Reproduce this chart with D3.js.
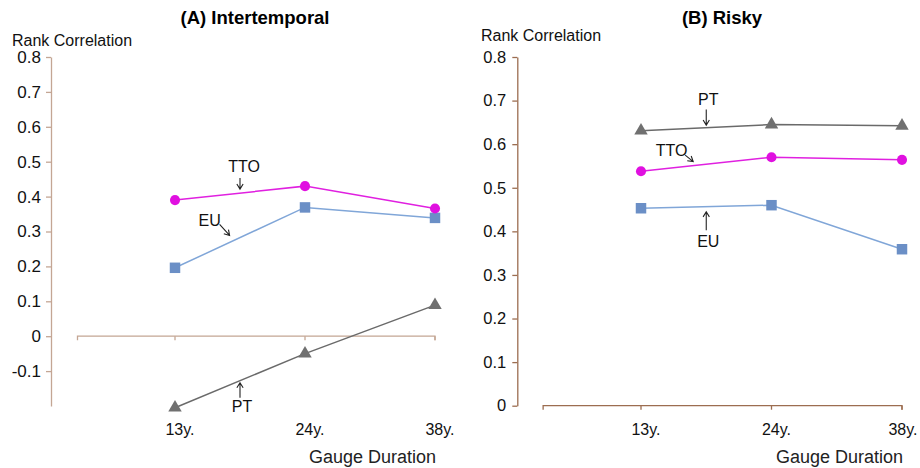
<!DOCTYPE html>
<meta charset="utf-8">
<style>
body { margin: 0; background: #fff; }
svg { font-family: Arial, "Liberation Sans", sans-serif; }
.tick text { fill: #111; }
</style>
<body>
<svg width="920" height="468"></svg>
<script src="https://cdn.jsdelivr.net/npm/d3@7/dist/d3.min.js"></script>
<script>

// data
var durations = ["13y.", "24y.", "38y."];

var interTTO = [0.390, 0.430, 0.366];
var interEU  = [0.196, 0.369, 0.339];
var interPT  = [-0.205, -0.050, 0.089];

var riskyTTO = [0.538, 0.570, 0.564];
var riskyEU  = [0.453, 0.460, 0.359];
var riskyPT  = [0.631, 0.645, 0.642];

var interTicks = [-0.1, 0, 0.1, 0.2, 0.3, 0.4, 0.5, 0.6, 0.7, 0.8];
var riskyTicks = [0, 0.1, 0.2, 0.3, 0.4, 0.5, 0.6, 0.7, 0.8];

var svg = d3.select("svg");

var styles = {
  TTO: { line: "#e020e0", fill: "#e010e0", symbol: d3.symbolCircle, size: 80 },
  EU:  { line: "#80a6d8", fill: "#6b8fc6", symbol: d3.symbolSquare, size: 110 },
  PT:  { line: "#6a6a6a", fill: "#707070", symbol: d3.symbolTriangle, size: 78 }
};

function arrow(g, x1, y1, x2, y2) {
  var a = Math.atan2(y2 - y1, x2 - x1), h = 6, w = 0.55;
  g.append("path")
    .attr("d", "M" + x1 + "," + y1 + "L" + x2 + "," + y2 +
      "M" + (x2 - h * Math.cos(a - w)) + "," + (y2 - h * Math.sin(a - w)) +
      "L" + x2 + "," + y2 +
      "L" + (x2 - h * Math.cos(a + w)) + "," + (y2 - h * Math.sin(a + w)))
    .attr("fill", "none")
    .attr("stroke", "#222")
    .attr("stroke-width", 1.1);
}

function panel(opt) {
  var g = svg.append("g");
  var x = d3.scalePoint().domain(durations).range(opt.xRange);
  var y = d3.scaleLinear().domain(opt.yDomain).range(opt.yRange);
  var step = x.step();

  // y axis
  var ya = g.append("g")
    .attr("transform", "translate(" + opt.axisX + ",0)")
    .call(d3.axisLeft(y).tickValues(opt.ticks).tickSize(5).tickSizeOuter(0)
      .tickPadding(opt.pad).tickFormat(function(d) { return String(+d.toFixed(1)); }));
  ya.selectAll("path, line").attr("stroke", opt.axisColor).attr("stroke-width", 1.3);
  ya.selectAll("text").attr("font-size", opt.tickSize).attr("font-family", "Arial, 'Liberation Sans', sans-serif");

  // x axis (crosses at zero, labels at the bottom)
  var x0 = x(durations[0]) - 0.75 * step, y0 = y(0);
  var xa = g.append("g").attr("stroke", opt.axisColor).attr("stroke-width", 1.3).attr("fill", "none");
  xa.append("path").attr("d", "M" + x0 + "," + (y0 + 4) + "V" + y0 + "H" + x(durations[2]) + "V" + (y0 + 4));
  durations.forEach(function(d) {
    xa.append("line").attr("x1", x(d)).attr("x2", x(d)).attr("y1", y0).attr("y2", y0 + 4);
  });
  g.selectAll(".xlab").data(durations).enter().append("text")
    .attr("x", function(d) { return Math.min(x(d) + 5, 903); })
    .attr("y", 435)
    .attr("text-anchor", "middle")
    .attr("font-size", 16)
    .attr("fill", "#111")
    .text(function(d) { return d; });

  g.append("text").attr("x", x(durations[2]) + 1).attr("y", 463)
    .attr("text-anchor", "end").attr("font-size", 18).attr("fill", "#222")
    .text("Gauge Duration");

  g.append("text").attr("x", opt.titleX).attr("y", 24)
    .attr("text-anchor", "middle").attr("font-size", 18.5).attr("font-weight", "bold")
    .text(opt.title);

  g.append("text").attr("x", opt.rankX).attr("y", opt.rankY)
    .attr("font-size", 16).attr("fill", "#111")
    .text("Rank Correlation");

  // series
  opt.series.forEach(function(s) {
    var st = styles[s.name];
    var line = d3.line().x(function(d, i) { return x(durations[i]); }).y(function(d) { return y(d); });
    g.append("path").datum(s.values).attr("d", line)
      .attr("fill", "none").attr("stroke", st.line).attr("stroke-width", 1.5);
    g.selectAll(null).data(s.values).enter().append("path")
      .attr("d", d3.symbol().type(st.symbol).size(st.size))
      .attr("transform", function(d, i) { return "translate(" + x(durations[i]) + "," + y(d) + ")"; })
      .attr("fill", st.fill);
  });

  // annotations: anchored on the series line at fractional index t
  opt.notes.forEach(function(n) {
    var vals = opt.series.filter(function(s) { return s.name === n.name; })[0].values;
    var i = Math.floor(n.t), f = n.t - i;
    var ax = x(durations[0]) + n.t * step;
    var ay = y(vals[i] + (vals[i + 1] - vals[i]) * f);
    arrow(g, ax + n.tail[0], ay + n.tail[1], ax + n.tip[0], ay + n.tip[1]);
    g.append("text").attr("x", ax + n.text[0]).attr("y", ay + n.text[1] + 6)
      .attr("text-anchor", "middle").attr("font-size", 16).attr("fill", "#111")
      .text(n.label);
  });
}

panel({
  title: "(A) Intertemporal", titleX: 255, rankX: 12, rankY: 46,
  xRange: [175, 435], yDomain: [-0.2, 0.8], yRange: [406, 57],
  axisX: 51, pad: 5, tickSize: 17, ticks: interTicks, axisColor: "#c4a694",
  series: [
    { name: "PT", values: interPT },
    { name: "EU", values: interEU },
    { name: "TTO", values: interTTO }
  ],
  notes: [
    { name: "TTO", label: "TTO", t: 0.5, tip: [0, -4], tail: [0, -15], text: [4, -27] },
    { name: "EU", label: "EU", t: 0.42, tip: [0, -7], tail: [-10, -18], text: [-20, -22] },
    { name: "PT", label: "PT", t: 0.5, tip: [0, 2], tail: [0, 17], text: [2, 25] }
  ]
});

panel({
  title: "(B) Risky", titleX: 722, rankX: 481, rankY: 41,
  xRange: [641, 902], yDomain: [0, 0.8], yRange: [405.7, 57],
  axisX: 517.3, pad: 6, tickSize: 16.5, ticks: riskyTicks, axisColor: "#9c6d50",
  series: [
    { name: "PT", values: riskyPT },
    { name: "EU", values: riskyEU },
    { name: "TTO", values: riskyTTO }
  ],
  notes: [
    { name: "PT", label: "PT", t: 0.5, tip: [0, -2.5], tail: [0, -18], text: [2, -29] },
    { name: "TTO", label: "TTO", t: 0.4, tip: [0, -4], tail: [-8, -10.5], text: [-21.5, -15.5] },
    { name: "EU", label: "EU", t: 0.5, tip: [0, 5], tail: [0, 23.5], text: [2, 34] }
  ]
});

</script>
</body>
